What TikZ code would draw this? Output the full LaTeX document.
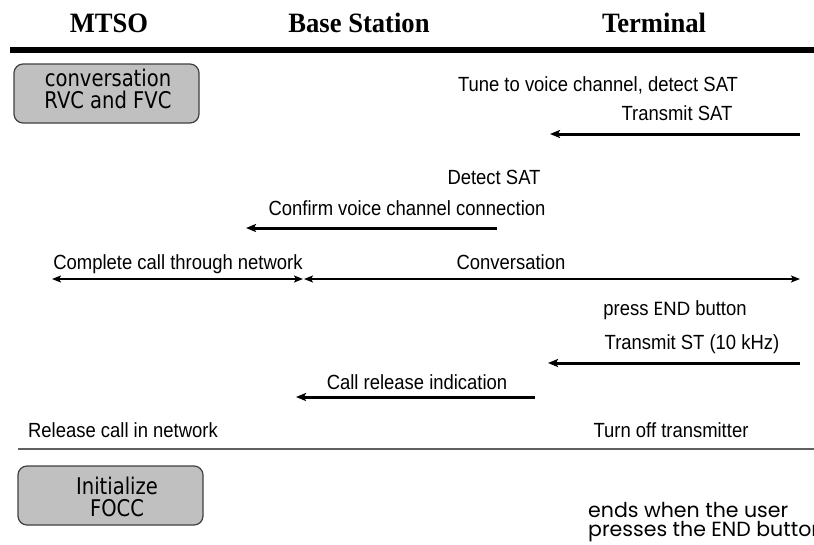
\documentclass[tikz,border=0pt]{standalone}
\usepackage{fontspec}
\setmainfont{Liberation Sans}
\newfontfamily\headfont[FakeStretch=0.95]{Liberation Serif}
\newfontfamily\msgfont[FakeStretch=0.9]{Liberation Sans}
\newfontfamily\boxfont[FakeStretch=0.85]{DejaVu Sans}
\newfontfamily\geofont{Poppins}
\usetikzlibrary{arrows.meta}
\definecolor{boxfill}{HTML}{C0C0C0}
\definecolor{boxedge}{HTML}{404040}
\definecolor{rulegray}{HTML}{606060}
\begin{document}
\begin{tikzpicture}[x=1pt,y=-1pt,
  hdr/.style={font=\headfont\bfseries\fontsize{28}{30}\selectfont, anchor=base, inner sep=0pt},
  msg/.style={font=\msgfont\fontsize{20.5}{22}\selectfont, anchor=base, inner sep=0pt},
  statebox/.style={draw=boxedge, fill=boxfill, rounded corners=9pt, line width=1.2pt, inner sep=0pt},
  boxtext/.style={font=\boxfont\fontsize{23}{22}\selectfont, align=center, inner sep=0pt},
  geo/.style={font=\geofont\fontsize{20.5}{19}\selectfont, anchor=base west, inner sep=0pt, align=left},
  sig/.style={line width=3pt, -{Stealth[length=10pt,width=8pt,inset=2pt]}},
  span/.style={line width=2.5pt, {Stealth[length=9pt,width=7pt,inset=2pt]}-{Stealth[length=9pt,width=7pt,inset=2pt]}},
]
\useasboundingbox (0,0) rectangle (814,544);
\fill[white] (0,0) rectangle (814,544);

% column headers and the rule beneath them
\node[hdr] (mtso) at (109,32) {MTSO};
\node[hdr] (bs) at (359,32) {Base Station};
\node[hdr] (term) at (654,32) {Terminal};
\coordinate (topL) at (10,50);
\coordinate (topR) at (814,50);
\draw[line width=6pt] (topL) -- (topR);

% state at the top
\node[statebox, minimum width=185pt, minimum height=59pt] (conv) at (106.5,93.5) {};
\node[boxtext] (convtxt) at (108,89) {conversation\\RVC and FVC};

% tune and SAT exchange
\node[msg] (tune) at (598,91) {Tune to voice channel, detect SAT};
\node[msg] (tsat) at (677,120) {Transmit SAT};
\coordinate (a1s) at (800,134);
\coordinate (a1e) at (550,134);
\draw[sig] (a1s) -- (a1e);

\node[msg] (dsat) at (494,184) {Detect SAT};
\node[msg] (confirm) at (407,215) {Confirm voice channel connection};
\coordinate (a2s) at (497,228);
\coordinate (a2e) at (246,228);
\draw[sig] (a2s) -- (a2e);

% call in progress
\node[msg] (complete) at (178,269) {Complete call through network};
\node[msg] (convers) at (511,269) {Conversation};
\coordinate (s1a) at (52,279);
\coordinate (s1b) at (303,279);
\coordinate (s2a) at (304,279);
\coordinate (s2b) at (800,279);
\draw[span] (s1a) -- (s1b);
\draw[span] (s2a) -- (s2b);

% release sequence
\node[msg] (press) at (675,315) {press {\geofont\fontsize{19}{20}\selectfont END} button};
\node[msg] (tst) at (692,349) {Transmit ST (10 kHz)};
\coordinate (a3s) at (800,363);
\coordinate (a3e) at (548,363);
\draw[sig] (a3s) -- (a3e);

\node[msg] (crel) at (417,389) {Call release indication};
\coordinate (a4s) at (535,397);
\coordinate (a4e) at (296,397);
\draw[sig] (a4s) -- (a4e);

\node[msg] (relnet) at (123,437) {Release call in network};
\node[msg] (turnoff) at (671,437) {Turn off transmitter};
\coordinate (botL) at (18,449);
\coordinate (botR) at (814,449);
\draw[rulegray, line width=1.5pt] (botL) -- (botR);

% state at the bottom
\node[statebox, minimum width=185pt, minimum height=59pt] (focc) at (110.5,495.5) {};
\node[boxtext] (focctxt) at (117,497) {Initialize\\FOCC};

\node[geo] (ends) at (588,536) {ends when the user\\presses the END button};
\end{tikzpicture}
\end{document}
